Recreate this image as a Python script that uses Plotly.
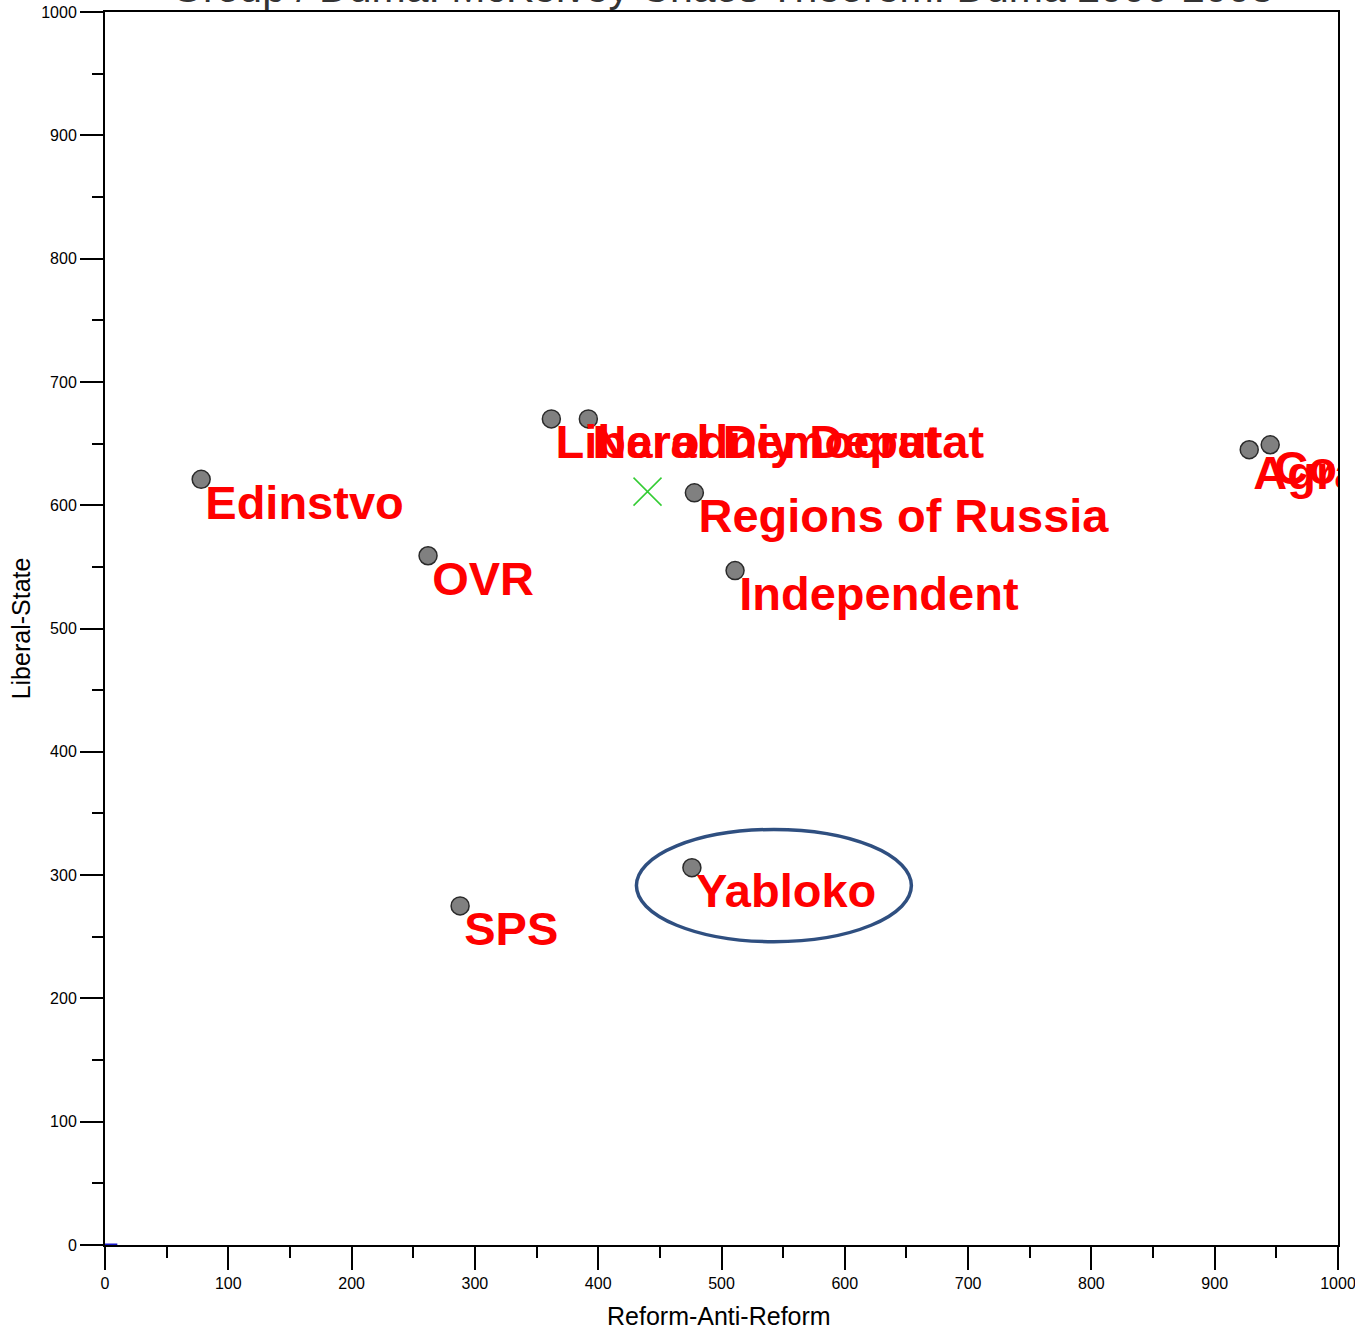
import plotly.graph_objects as go

# ---- data ----
parties = ["Edinstvo", "OVR", "Liberal Democrat", "Narodniy Deputat",
           "Regions of Russia", "Independent", "SPS", "Yabloko",
           "Agrarian", "Communist"]
reform = [78, 262, 362, 392, 478, 511, 288, 476, 928, 945]
liberal_state = [621, 559, 670, 670, 610, 547, 275, 306, 645, 649]

core_x = [440]
core_y = [611]

origin_x = [0, 10]
origin_y = [0, 0]

highlight_party = "Yabloko"
highlight_x = [431, 654]
highlight_y = [246, 337]

title_text = "Group / Duma: McKelvey Chaos Theorem: Duma 2000-2003"
x_title = "Reform-Anti-Reform"
y_title = "Liberal-State"

FONT = "Liberation Sans, Arial, sans-serif"

fig = go.Figure()

# small blue mark at origin
fig.add_trace(go.Scatter(x=origin_x, y=origin_y, mode="lines",
                         line=dict(color="#1a1acc", width=3),
                         hoverinfo="skip", showlegend=False))

# party positions (grey dots)
fig.add_trace(go.Scatter(x=reform, y=liberal_state, mode="markers",
                         marker=dict(size=18, color="#808080",
                                     line=dict(color="#2a2a2a", width=1.5)),
                         showlegend=False))

# core point (green x)
fig.add_trace(go.Scatter(x=core_x, y=core_y, mode="markers",
                         marker=dict(symbol="x-thin", size=28,
                                     line=dict(color="#33cc33", width=1.5)),
                         showlegend=False))

# party labels
fig.add_trace(go.Scatter(x=reform, y=liberal_state, mode="markers+text",
                         text=parties, textposition="bottom right",
                         marker=dict(size=5, opacity=0),
                         textfont=dict(family=FONT, size=47, color="#ff0000",
                                       weight="bold"),
                         cliponaxis=True, hoverinfo="skip", showlegend=False))

# highlight ellipse around Yabloko
fig.add_shape(type="circle", xref="x", yref="y",
              x0=highlight_x[0], x1=highlight_x[1],
              y0=highlight_y[0], y1=highlight_y[1],
              line=dict(color="#2f4f80", width=3.5))

axis_common = dict(range=[0, 1000], dtick=100, tick0=0,
                   showgrid=False, zeroline=False,
                   showline=True, linecolor="black", linewidth=2, mirror=True,
                   ticks="outside", ticklen=23, tickwidth=2, tickcolor="black",
                   minor=dict(ticks="outside", ticklen=11, dtick=50,
                              tickwidth=2, tickcolor="black"),
                   tickfont=dict(family=FONT, size=16, color="black"),
                   ticklabeloverflow="allow",
                   automargin=False)

fig.update_xaxes(**axis_common)
fig.update_yaxes(**axis_common,
                 title=dict(text=y_title, standoff=3,
                            font=dict(family=FONT, size=25, color="black")))

# x-axis title (sits partly below the page edge, as in the reference)
fig.add_annotation(text=x_title, xref="paper", yref="paper",
                   x=0.498, y=0, xanchor="center", yanchor="top",
                   yshift=-55, showarrow=False,
                   font=dict(family=FONT, size=25, color="black"))

# chart title (mostly above the page edge, as in the reference)
fig.add_annotation(text=title_text, xref="paper", yref="paper",
                   x=0.5, y=1, xanchor="center", yanchor="bottom",
                   yshift=-1, showarrow=False,
                   font=dict(family=FONT, size=41, color="#333333"))

fig.update_layout(width=1355, height=1326,
                  margin=dict(l=105, r=17, t=12, b=81),
                  plot_bgcolor="white", paper_bgcolor="white",
                  showlegend=False)

fig.write_html("out.html",
               config={"displayModeBar": False},
               post_script="document.body.style.margin='0';")
